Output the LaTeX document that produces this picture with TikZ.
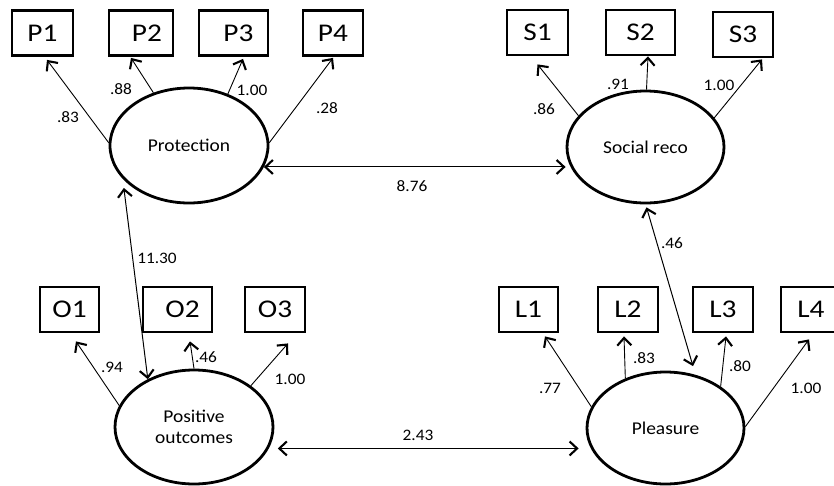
\documentclass[tikz,border=0pt]{standalone}
\usepackage{fontspec}
\setmainfont[FakeStretch=1.08]{Carlito}
\newfontfamily\boxfont[FakeStretch=1.15]{Carlito}
\usetikzlibrary{arrows.meta,shapes.geometric}
\begin{document}
\begin{tikzpicture}[x=1pt,y=-1pt,
  item/.style={draw,line width=2.8pt,minimum height=45pt,inner sep=0pt,
    font=\boxfont\fontsize{25.5}{26}\selectfont},
  latent/.style={draw,ellipse,line width=2.8pt,inner sep=0pt,align=center,
    font=\fontsize{18}{21.5}\selectfont},
  barb/.tip={Straight Barb[length=7.5pt,width=14pt,line width=2.1pt]},
  load/.style={line width=0.9pt,-barb},
  cov/.style={line width=1pt,barb-barb},
  num/.style={inner sep=0pt,font=\fontsize{16}{16}\selectfont}]
\useasboundingbox (0,0) rectangle (834,485);

% latent factors
\node[latent,minimum width=158pt,minimum height=115pt] (prot) at (189,145.5) {Protection};
\node[latent,minimum width=157pt,minimum height=112pt] (soc) at (645.5,147) {Social reco};
\node[latent,minimum width=158pt,minimum height=114pt] (pos) at (194,427) {Positive\\outcomes};
\node[latent,minimum width=157pt,minimum height=112pt] (pl) at (665.5,428) {Pleasure};

% indicators
\node[item,minimum width=61pt] (P1) at (42.5,33) {P1};
\node[item,minimum width=64pt] (P2) at (141,33) {\hspace{12pt}P2};
\node[item,minimum width=69pt] (P3) at (233.5,33) {\hspace{10pt}P3};
\node[item,minimum width=60pt] (P4) at (333,33) {P4};
\node[item,minimum width=61pt] (S1) at (537.5,32.5) {S1};
\node[item,minimum width=69pt] (S2) at (640.5,32.5) {S2};
\node[item,minimum width=60pt] (S3) at (743,34.5) {S3};
\node[item,minimum width=59pt] (O1) at (69.5,309.5) {O1};
\node[item,minimum width=69pt] (O2) at (177.5,309.5) {\hspace{10pt}O2};
\node[item,minimum width=60pt] (O3) at (275,309.5) {O3};
\node[item,minimum width=59pt] (L1) at (528.5,309.5) {L1};
\node[item,minimum width=60pt] (L2) at (628,309.5) {L2};
\node[item,minimum width=60pt] (L3) at (723,309.5) {L3};
\node[item,minimum width=60pt] (L4) at (811,309.5) {L4};

% loadings
\draw[load] (prot.178) -- ([xshift=4.5pt,yshift=-3pt]P1.south);
\draw[load] (prot.124) -- ([xshift=-10pt,yshift=-1pt]P2.south);
\draw[load] (prot.53) -- ([xshift=9.5pt,yshift=-2pt]P3.south);
\draw[load] (prot.2) -- ([yshift=-1pt]P4.south);
\draw[load] (soc.155) -- ([yshift=-8pt]S1.south);
\draw[load] (soc.89) -- ([xshift=7.5pt]S2.south);
\draw[load] (soc.23) -- ([xshift=19pt,yshift=-1pt]S3.south);
\draw[load] (pos.164) -- ([xshift=6.5pt,yshift=-8pt]O1.south);
\draw[load] (pos.90) -- ([xshift=12.5pt,yshift=-8pt]O2.south);
\draw[load] (pos.36) -- ([xshift=13pt,yshift=-10pt]O3.south);
\draw[load] (pl.164) -- ([xshift=16.5pt,yshift=-3pt]L1.south);
\draw[load] (pl.129) -- ([xshift=-4pt,yshift=-3pt]L2.south);
\draw[load] (pl.37) -- ([xshift=3pt,yshift=-3pt]L3.south);
\draw[load] (pl.1) -- ([xshift=-2pt,yshift=-6pt]L4.south);

% factor covariances
\draw[cov] (prot.-16) -- (prot.-16 -| soc.west);
\draw[cov] ([xshift=-2pt,yshift=-6pt]prot.210) -- (pos.134);
\draw[cov] ([yshift=-3pt]soc.271) -- ([yshift=8pt]pl.63);
\draw[cov] ([xshift=9pt]pos.-16) -- ([xshift=-7pt]pos.-16 -| pl.west);

% estimates
\node[num] (lP1) at (68,117) {.83};
\node[num] (lP2) at (121,89) {.88};
\node[num] (lP3) at (252,90) {1.00};
\node[num] (lP4) at (327,108) {.28};
\node[num] (lS1) at (544,109) {.86};
\node[num] (lS2) at (618,84) {.91};
\node[num] (lS3) at (719,85) {1.00};
\node[num] (lO1) at (112,367) {.94};
\node[num] (lO2) at (206,357) {.46};
\node[num] (lO3) at (290,379) {1.00};
\node[num] (lL1) at (550,388) {.77};
\node[num] (lL2) at (644,358) {.83};
\node[num] (lL3) at (740,366) {.80};
\node[num] (lL4) at (806,388) {1.00};
\node[num] (cPS) at (412,186) {8.76};
\node[num] (cPO) at (157,258) {11.30};
\node[num] (cSL) at (672,243) {.46};
\node[num] (cOL) at (418,435) {2.43};
\end{tikzpicture}
\end{document}
